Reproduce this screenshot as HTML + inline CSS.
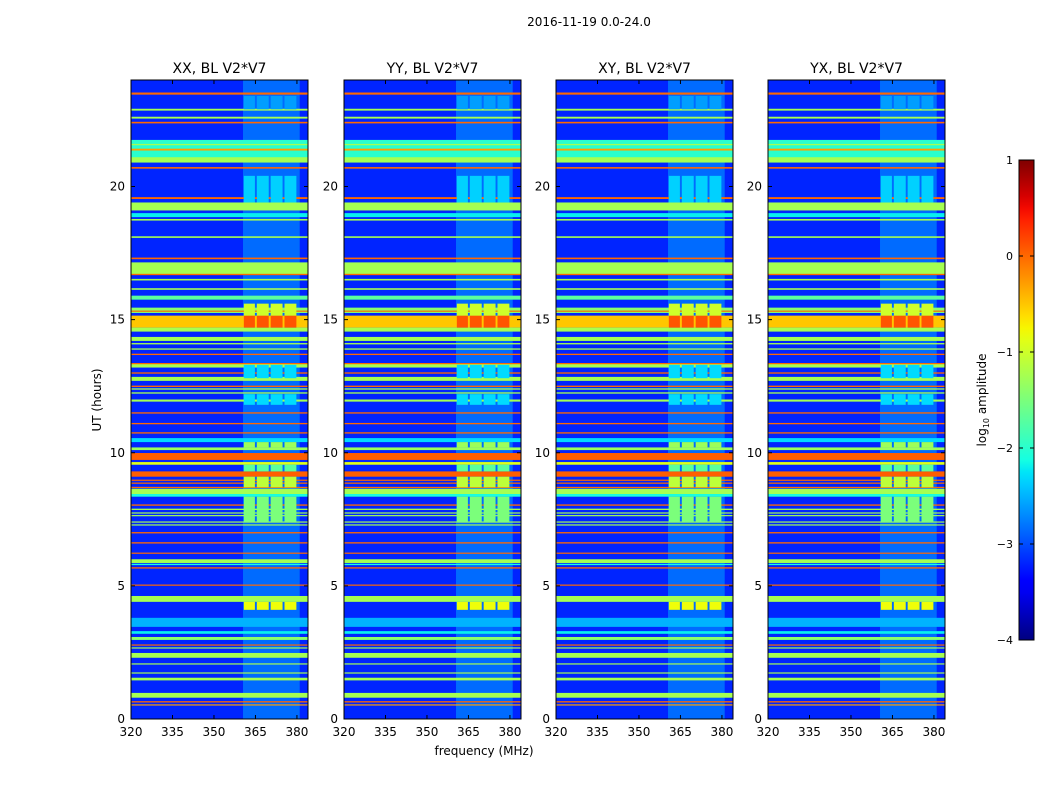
<!DOCTYPE html>
<html><head><meta charset="utf-8"><style>
body{margin:0;background:#fff;width:1050px;height:800px;overflow:hidden;font-family:"DejaVu Sans","Liberation Sans",sans-serif}
</style></head><body>
<svg id="fig" width="1050" height="800" xmlns="http://www.w3.org/2000/svg" font-family="DejaVu Sans, Liberation Sans, sans-serif">
<rect width="1050" height="800" fill="#fff"/>
<text x="589" y="26" font-size="12" text-anchor="middle">2016-11-19 0.0-24.0</text>
<text x="484" y="755" font-size="12" text-anchor="middle">frequency (MHz)</text>
<text x="0" y="0" font-size="12" text-anchor="middle" transform="translate(101,400) rotate(-90)">UT (hours)</text>
<defs id="defs"></defs>
<g id="panels"></g>
<g id="cbar"></g>
</svg>
<script>
// ---- data ----
const panelTitles = ["XX, BL V2*V7","YY, BL V2*V7","XY, BL V2*V7","YX, BL V2*V7"];
const xTicks = [320,335,350,365,380];
const yTicks = [0,5,10,15,20];
const cbTicks = [1,0,-1,-2,-3,-4];
const backgroundLevel = -3.2;
const hazeLo = 360.5, hazeHi = 381, hazeLevel = -2.85;
const bandLo = [23.45,22.85,22.55,22.37,20.9,21.35,21.55,20.9,20.67,19.53,19.1,18.85,18.72,18.07,17.27,16.7,16.67,16.47,16.12,15.75,15.25,15.3,14.7,14.55,14.2,14.07,13.87,13.67,13.2,13.33,12.97,12.7,12.47,12.37,12.22,11.92,11.47,11.07,10.72,10.4,10.1,9.73,9.55,9.1,8.95,8.84,8.68,8.45,8.35,8.01,7.85,7.72,7.62,7.38,7.27,6.97,6.59,6.21,5.86,5.78,5.65,5.01,4.4,3.46,3.2,2.97,2.76,2.65,2.3,2.05,1.71,1.45,0.8,0.62,0.52];
const bandHi = [23.53,22.92,22.62,22.43,21.75,21.42,21.6,21.1,20.73,19.6,19.4,19.0,18.78,18.13,17.33,17.15,16.72,16.53,16.18,15.9,15.45,15.34,15.15,14.7,14.35,14.12,13.92,13.72,13.35,13.37,13.02,12.85,12.52,12.42,12.27,12.0,11.52,11.12,10.77,10.55,10.2,9.99,9.65,9.3,8.99,8.88,8.72,8.65,8.45,8.06,7.9,7.76,7.66,7.42,7.31,7.02,6.64,6.25,6.0,5.83,5.7,5.05,4.62,3.8,3.3,3.08,2.8,2.69,2.48,2.09,1.75,1.55,0.98,0.67,0.55];
const bandLevel = [0,-1.25,-1.25,0,-2.0,-0.3,-1.25,-1.25,0,0,-1.25,-2.2,-1.25,-1.25,0,-1.25,0,-1.25,-1.25,-1.7,-1.4,0,-0.5,-1.25,-1.25,-1.25,-1.25,0,-1.25,0,0,-1.25,0,-1.25,-1.25,-1.25,0,0,0,-2.3,-1.3,0.05,-0.9,0.05,0,0,0,-1.25,-2.1,0,-1.25,-1.25,-1.25,-1.25,-1.25,0,0,0,-1.25,-2.1,0,0,-1.25,-2.5,-2.2,-1.4,0,-1.25,-1.25,-1.25,-1.25,-1.25,-1.25,0,-0.3];
const colLo = [360.8,365.5,370.5,375.5];
const colHi = [364.8,369.8,374.8,379.8];
const blockLo = [4.1,7.4,8.7,9.3,10.2,11.8,12.8,14.7,15.15,19.4,22.9];
const blockHi = [4.4,8.35,9.1,9.55,10.4,12.2,13.3,15.15,15.6,20.4,23.4];
const blockLevel = [-0.8,-1.5,-1.1,-1.7,-1.3,-2.3,-2.3,0.1,-1.0,-2.35,-2.6];

// ---- helpers ----
const NS="http://www.w3.org/2000/svg";
const panelLeft=[131,344,556,768], PW=177, PT=80, PB=719;
const fMin=320,fMax=384,hMin=0,hMax=24,vMin=-4,vMax=1;
const JR=[[0,0],[0.35,0],[0.66,1],[0.89,1],[1,0.5]];
const JG=[[0,0],[0.125,0],[0.375,1],[0.64,1],[0.91,0],[1,0]];
const JB=[[0,0.5],[0.11,1],[0.34,1],[0.65,0],[1,0]];
function seg(s,t){for(let i=1;i<s.length;i++){if(t<=s[i][0]){const a=s[i-1],b=s[i];return a[1]+(b[1]-a[1])*(t-a[0])/(b[0]-a[0]);}}return s[s.length-1][1];}
function jet(v){const t=Math.max(0,Math.min(1,(v-vMin)/(vMax-vMin)));
 return `rgb(${Math.round(seg(JR,t)*255)},${Math.round(seg(JG,t)*255)},${Math.round(seg(JB,t)*255)})`;}
function mk(tag,attrs,parent){const e=document.createElementNS(NS,tag);for(const k in attrs)e.setAttribute(k,attrs[k]);parent.appendChild(e);return e;}
function yH(h){return PB-(h-hMin)/(hMax-hMin)*(PB-PT);}
const panels=document.getElementById('panels');
panelLeft.forEach((x0,p)=>{
 const xF=f=>x0+(f-fMin)/(fMax-fMin)*PW;
 const g=mk('g',{},panels);
 
 
 const cp=mk('clipPath',{id:'cp'+p},document.getElementById('defs'));
 mk('rect',{x:x0,y:PT,width:PW,height:PB-PT},cp);
 const hm=mk('g',{'clip-path':`url(#cp${p})`},g);
 
 
 mk('rect',{x:x0,y:PT,width:PW,height:PB-PT,fill:jet(backgroundLevel)},hm);
 mk('rect',{x:xF(hazeLo),y:PT,width:xF(hazeHi)-xF(hazeLo),height:PB-PT,fill:jet(hazeLevel)},hm);
 bandLo.forEach((lo,i)=>{
  const r=mk('rect',{x:x0,y:yH(bandHi[i]),width:PW,height:Math.max(1.2,yH(lo)-yH(bandHi[i])),fill:jet(bandLevel[i])},hm);
  
  
 });
 blockLo.forEach((lo,i)=>{colLo.forEach((c,j)=>{
  const r=mk('rect',{x:xF(c),y:yH(blockHi[i]),width:xF(colHi[j])-xF(c),height:yH(lo)-yH(blockHi[i]),fill:jet(blockLevel[i])},hm);
  
  
 });});
 mk('rect',{x:x0,y:PT,width:PW,height:PB-PT,fill:'none',stroke:'#000','stroke-width':1},g);
 const t=mk('text',{x:x0+PW/2,y:73,'font-size':14,'text-anchor':'middle'},g);t.textContent=panelTitles[p];
 
 
 xTicks.forEach(v=>{const x=xF(v);
  mk('line',{x1:x,x2:x,y1:PB,y2:PB-4,stroke:'#000'},g);mk('line',{x1:x,x2:x,y1:PT,y2:PT+4,stroke:'#000'},g);
  const l=mk('text',{x:x,y:PB+17,'font-size':12,'text-anchor':'middle'},g);l.textContent=v;
  
  });
 yTicks.forEach(v=>{const y=yH(v);
  mk('line',{x1:x0,x2:x0+4,y1:y,y2:y,stroke:'#000'},g);mk('line',{x1:x0+PW,x2:x0+PW-4,y1:y,y2:y,stroke:'#000'},g);
  const l=mk('text',{x:x0-6,y:y+4,'font-size':12,'text-anchor':'end'},g);l.textContent=v;
  
  });
});
// colorbar
const cb=document.getElementById('cbar');


const CX=1019,CW=15,CT=160,CB=640;
const grad=mk('linearGradient',{id:'cg',x1:0,y1:1,x2:0,y2:0},document.getElementById('defs'));
for(let i=0;i<=40;i++){const v=vMin+(vMax-vMin)*i/40;mk('stop',{offset:i/40,'stop-color':jet(v)},grad);}
mk('rect',{x:CX,y:CT,width:CW,height:CB-CT,fill:'url(#cg)',stroke:'#000'},cb);
cbTicks.forEach(v=>{const y=CB-(v-vMin)/(vMax-vMin)*(CB-CT);
 mk('line',{x1:CX,x2:CX+4,y1:y,y2:y,stroke:'#000'},cb);mk('line',{x1:CX+CW,x2:CX+CW-4,y1:y,y2:y,stroke:'#000'},cb);
 const l=mk('text',{x:1013,y:y+4,'font-size':11,'text-anchor':'end'},cb);l.textContent=String(v).replace('-','\u2212');
 
 });
const cl2=mk('text',{'font-size':12,'text-anchor':'middle',transform:'translate(986,400) rotate(-90)'},cb);
cl2.innerHTML='log<tspan font-size="8" dy="3">10</tspan><tspan dy="-3"> amplitude</tspan>';


</script>
</body></html>
